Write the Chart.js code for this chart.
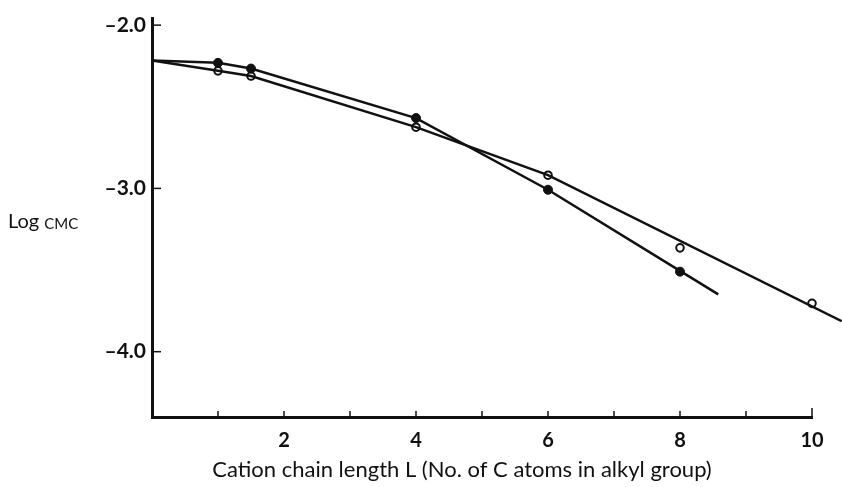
<!DOCTYPE html>
<html>
<head>
<meta charset="utf-8">
<script src="https://cdn.jsdelivr.net/npm/chart.js@4.4.1/dist/chart.umd.min.js"></script>
<style>
  html, body { margin: 0; padding: 0; background: #fff; }
  #wrap { width: 842px; height: 487px; }
</style>
</head>
<body>
<div id="wrap"><canvas id="c"></canvas></div>
<script>
// chain length L (No. of C atoms)
const filledL = [1, 1.5, 4, 6, 8];
const filledLog = [-2.231, -2.266, -2.569, -3.008, -3.51];
const openL = [1, 1.5, 4, 6, 8, 10];
const openLog = [-2.28, -2.312, -2.625, -2.919, -3.364, -3.704];

// drawn curves
const filledCurveL = [0, 1, 1.5, 4, 6, 8, 8.58];
const filledCurveLog = [-2.217, -2.231, -2.266, -2.569, -3.008, -3.505, -3.649];
const openCurveL = [0, 1, 1.5, 4, 6, 10.45];
const openCurveLog = [-2.217, -2.28, -2.312, -2.625, -2.919, -3.813];

const yTicks = [-2, -3, -4];
const xLabelTicks = [2, 4, 6, 8, 10];

const pts = (xs, ys) => xs.map((x, i) => ({ x: x, y: ys[i] }));

const ink = '#111';

// titles and inward ticks
const decor = {
  id: 'decor',
  afterDraw(chart) {
    const ctx = chart.ctx;
    const xs = chart.scales.x, ys = chart.scales.y;
    const a = chart.chartArea;
    ctx.save();
    ctx.strokeStyle = ink;
    ctx.lineWidth = 1.5;
    yTicks.forEach(v => {
      const py = ys.getPixelForValue(v);
      ctx.beginPath();
      ctx.moveTo(a.left, py);
      ctx.lineTo(a.left + 9, py);
      ctx.stroke();
    });
    for (let v = 1; v <= 10; v++) {
      const px = xs.getPixelForValue(v);
      ctx.beginPath();
      ctx.moveTo(px, a.bottom);
      ctx.lineTo(px, a.bottom - (v === 10 ? 9 : 6));
      ctx.stroke();
    }
    ctx.fillStyle = ink;
    ctx.textBaseline = 'middle';
    ctx.textAlign = 'left';
    ctx.font = '20px Lato';
    ctx.fillText('Log', 8, 222);
    const w = ctx.measureText('Log ').width;
    ctx.font = '15px Lato';
    ctx.fillText('CMC', 8 + w, 224);
    ctx.textAlign = 'center';
    ctx.font = '22px Lato';
    ctx.fillText('Cation chain length L (No. of C atoms in alkyl group)', 462, 470);
    ctx.restore();
  }
};

new Chart(document.getElementById('c'), {
  type: 'scatter',
  data: {
    datasets: [
      {
        type: 'line',
        data: pts(filledCurveL, filledCurveLog),
        borderColor: ink,
        borderWidth: 2.5,
        pointRadius: 0,
        tension: 0,
        clip: false
      },
      {
        type: 'line',
        data: pts(openCurveL, openCurveLog),
        borderColor: ink,
        borderWidth: 2.5,
        pointRadius: 0,
        tension: 0,
        clip: false
      },
      {
        data: pts(filledL, filledLog),
        pointRadius: 4.5,
        pointBackgroundColor: ink,
        pointBorderColor: ink,
        pointBorderWidth: 1,
        clip: false
      },
      {
        data: pts(openL, openLog),
        pointRadius: 3.8,
        pointBackgroundColor: '#fff',
        pointBorderColor: ink,
        pointBorderWidth: 2,
        clip: false
      }
    ]
  },
  options: {
    responsive: true,
    maintainAspectRatio: false,
    animation: false,
    layout: { padding: { left: 0, right: 30, top: 15, bottom: 0 } },
    plugins: {
      legend: { display: false },
      tooltip: { enabled: false }
    },
    scales: {
      x: {
        type: 'linear',
        min: 0,
        max: 10,
        afterFit(scale) { scale.height = 70; },
        border: { color: ink, width: 3 },
        grid: { display: false, drawTicks: false },
        ticks: {
          stepSize: 1,
          padding: 12,
          color: ink,
          font: { family: 'Lato', size: 20, weight: 'bold' },
          callback(v) { return xLabelTicks.includes(v) ? String(v) : ''; }
        }
      },
      y: {
        type: 'linear',
        min: -4.4,
        max: -1.96,
        afterFit(scale) { scale.width = 152; },
        afterBuildTicks(scale) { scale.ticks = yTicks.map(v => ({ value: v })); },
        border: { color: ink, width: 3 },
        grid: { display: false, drawTicks: false },
        ticks: {
          padding: 6,
          color: ink,
          font: { family: 'Lato', size: 21, weight: 'bold' },
          callback(v) { return '\u2013' + Math.abs(v).toFixed(1); }
        }
      }
    }
  },
  plugins: [decor]
});
</script>
</body>
</html>
